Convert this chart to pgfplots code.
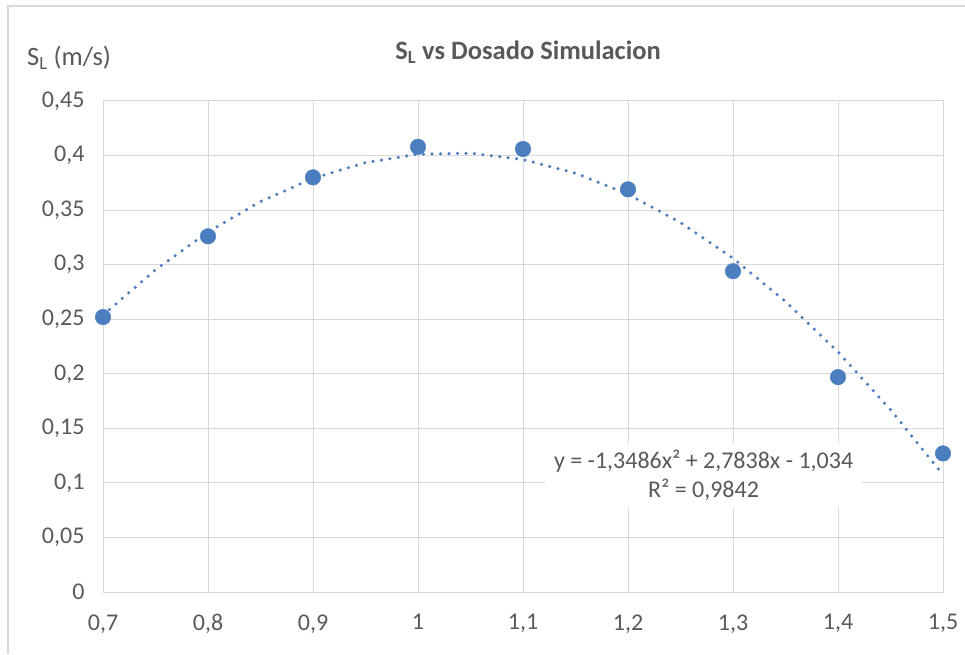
\documentclass[border=0pt]{standalone}
\usepackage{pgfplots}
\pgfplotsset{compat=1.18}
\usepackage{fontspec}
\setmainfont{Carlito}
\definecolor{txt}{HTML}{595959}
\definecolor{gridc}{HTML}{D9D9D9}
\definecolor{frame}{HTML}{D9D9D9}
\definecolor{blu}{HTML}{4A7EBF}
\begin{document}
\begin{tikzpicture}[x=1pt,y=1pt]
\path[use as bounding box] (0,0) rectangle (965,654);
\draw[frame,line width=1.2pt] (8,0) -- (8,648) -- (965,648);
\begin{axis}[
  at={(103pt,62pt)}, anchor=south west,
  scale only axis, width=840pt, height=491pt,
  xmin=0.7, xmax=1.5, ymin=0, ymax=0.45,
  xtick={0.7,0.8,0.9,1,1.1,1.2,1.3,1.4,1.5},
  ytick={0,0.05,0.1,0.15,0.2,0.25,0.3,0.35,0.4,0.45},
  xticklabels={0{,}7,0{,}8,0{,}9,1,1{,}1,1{,}2,1{,}3,1{,}4,1{,}5},
  yticklabels={0,0{,}05,0{,}1,0{,}15,0{,}2,0{,}25,0{,}3,0{,}35,0{,}4,0{,}45},
  grid=major, major grid style={gridc,line width=1pt},
  axis line style={gridc,line width=1pt},
  tick style={draw=none},
  ticklabel style={font=\fontsize{24}{28}\selectfont, text=txt},
  xticklabel style={yshift=-19pt},
  yticklabel style={xshift=-15pt},
  clip=false,
]
\addplot[blu, line width=3.5pt, line cap=round, dash pattern=on 0pt off 8.5pt] coordinates {
(0.7,0.253846) (0.75,0.295262) (0.8,0.329936) (0.85,0.357866) (0.9,0.379054)
(0.95,0.393498) (1.0,0.4012) (1.05,0.402158) (1.1,0.396374) (1.15,0.383846)
(1.2,0.364576) (1.25,0.338562) (1.3,0.305806) (1.35,0.266306) (1.4,0.220064)
(1.45,0.167078) (1.5,0.10735)};
\addplot[only marks, mark=*, mark size=7.8pt, mark options={fill=blu, draw=blu}] coordinates {
(0.7,0.252) (0.8,0.326) (0.9,0.380) (1.0,0.408) (1.1,0.406)
(1.2,0.369) (1.3,0.294) (1.4,0.197) (1.5,0.127)};
\node[fill=white, minimum width=317pt, minimum height=65pt, inner sep=0pt,
  align=center, text=txt, font=\fontsize{24}{29}\selectfont]
  at (axis cs:1.272,0.1068) {y = -1,3486x² + 2,7838x - 1,034\\R² = 0,9842};
\end{axis}
\node[text=txt, font=\fontsize{26.5}{30}\selectfont\bfseries] at (528,602) {S\textsubscript{L} vs Dosado Simulacion};
\node[text=txt, font=\fontsize{26.5}{30}\selectfont, anchor=west, inner sep=0pt] at (27,596) {S\textsubscript{L} (m/s)};
\end{tikzpicture}
\end{document}
